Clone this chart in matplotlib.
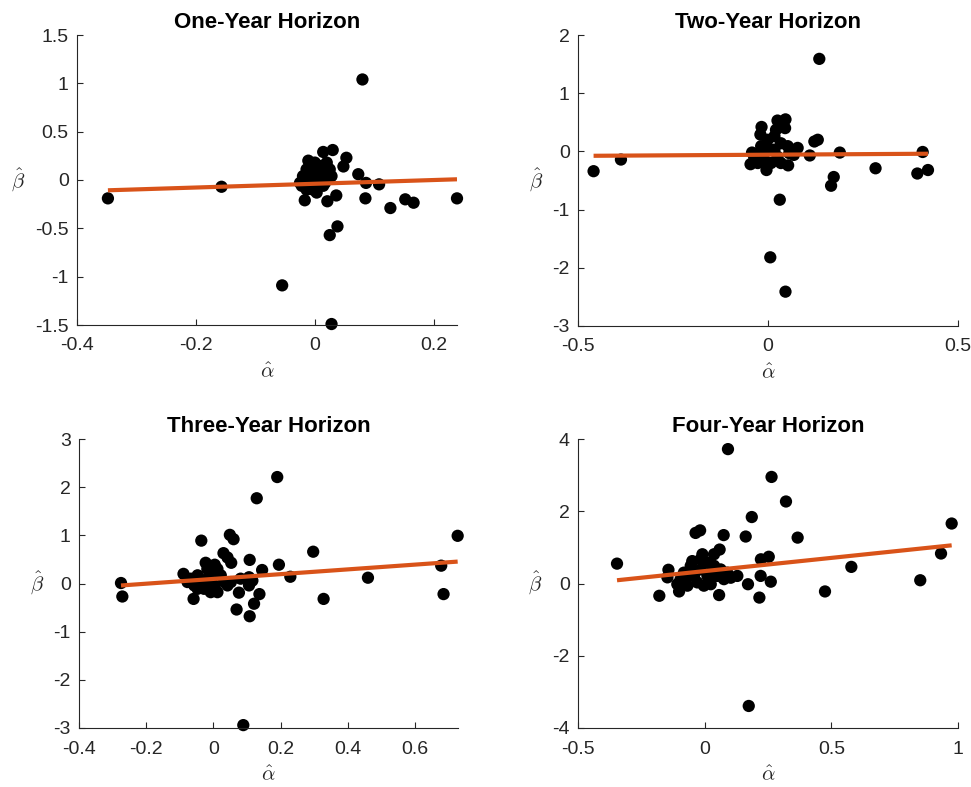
import matplotlib
matplotlib.use("Agg")
import matplotlib.pyplot as plt
import numpy as np

plt.rcParams['font.family'] = ['Liberation Sans', 'DejaVu Sans']
plt.rcParams['mathtext.fontset'] = 'cm'

titles = ["One-Year Horizon", "Two-Year Horizon", "Three-Year Horizon", "Four-Year Horizon"]

# ---- One-year horizon ----
alpha1 = [-0.348, -0.157, 0.080, -0.055, 0.028, 0.025, 0.038, 0.021, 0.036, -0.017,
          0.085, 0.086, 0.108, 0.127, 0.152, 0.166, 0.239, 0.073, 0.048, 0.053,
          0.030, 0.014, 0.000, -0.014, -0.020, -0.025, -0.008, 0.003, 0.014, 0.020,
          0.025, 0.008, -0.003, -0.014, 0.020, 0.011, 0.028, 0.006, -0.006, -0.017,
          -0.022, -0.003, 0.017, 0.003, -0.011]
beta1 = [-0.19, -0.07, 1.04, -1.09, -1.49, -0.57, -0.48, -0.22, -0.16, -0.21,
         -0.19, -0.03, -0.045, -0.29, -0.20, -0.235, -0.19, 0.06, 0.14, 0.23,
         0.31, 0.29, 0.18, 0.11, 0.04, -0.03, -0.06, -0.13, -0.06, 0.04,
         0.11, 0.08, 0.01, -0.10, 0.18, 0.145, 0.04, -0.01, 0.06, -0.01,
         -0.06, -0.10, -0.03, 0.11, 0.20]

# ---- Two-year horizon ----
alpha2 = [-0.459, -0.387, 0.135, 0.006, 0.046, 0.031, 0.053, 0.110, 0.122, 0.131,
          0.189, 0.173, 0.166, 0.283, 0.393, 0.407, 0.421, -0.017, -0.020, 0.025,
          0.046, 0.045, 0.078, 0.068, -0.004, -0.046, -0.042, -0.027, -0.018, -0.001,
          0.017, 0.034, 0.025, 0.008, -0.010, 0.017, 0.052, -0.027, 0.034, 0.008,
          -0.018, 0.021, 0.056, -0.036]
beta2 = [-0.34, -0.14, 1.59, -1.82, -2.41, -0.83, -0.24, -0.07, 0.17, 0.20,
         -0.02, -0.44, -0.59, -0.29, -0.38, -0.01, -0.32, 0.42, 0.29, 0.53,
         0.55, 0.40, 0.06, -0.06, -0.32, -0.22, -0.02, -0.09, 0.09, 0.20,
         0.26, 0.14, -0.09, -0.20, -0.14, 0.03, 0.09, -0.20, -0.20, 0.03,
         -0.03, 0.37, -0.03, -0.11]

# ---- Three-year horizon ----
alpha3 = [-0.275, -0.271, -0.036, 0.049, 0.060, 0.129, 0.190, 0.089, 0.297, 0.195,
          0.229, 0.328, 0.460, 0.678, 0.685, 0.727, 0.108, 0.145, 0.137, 0.121,
          0.069, 0.108, 0.076, 0.030, 0.042, 0.053, -0.023, 0.004, -0.089, -0.059,
          0.106, 0.081, 0.116, 0.106, -0.077, -0.057, -0.047, -0.028, -0.018, -0.008,
          0.002, 0.012, 0.022, 0.032, 0.042, -0.037, -0.008, -0.067, 0.012, 0.052,
          -0.018, -0.047]
beta3 = [0.01, -0.27, 0.89, 1.01, 0.92, 1.77, 2.21, -2.94, 0.66, 0.39,
         0.14, -0.32, 0.12, 0.37, -0.22, 0.99, 0.49, 0.28, -0.22, -0.42,
         -0.54, -0.68, -0.19, 0.63, 0.54, 0.43, 0.43, 0.39, 0.20, -0.32,
         0.13, 0.10, 0.06, -0.04, 0.03, -0.04, 0.17, -0.11, 0.10, 0.23,
         -0.04, -0.18, 0.17, 0.03, -0.04, 0.03, -0.18, 0.10, 0.30, 0.03,
         0.30, -0.11]

# ---- Four-year horizon ----
alpha4 = [-0.346, 0.092, 0.264, 0.321, 0.186, 0.975, 0.367, 0.162, 0.075, -0.036,
          -0.018, 0.174, 0.579, 0.475, 0.851, 0.933, 0.253, 0.222, 0.221, 0.261,
          0.216, 0.171, 0.129, 0.057, -0.179, -0.143, -0.147, -0.101, 0.059, 0.037,
          -0.049, -0.009, -0.095, -0.068, -0.042, -0.016, 0.011, 0.024, 0.050, 0.076,
          0.089, -0.029, -0.003, 0.024, -0.068, -0.055, 0.011, 0.037, -0.108, -0.016,
          -0.082, 0.063, 0.103]
beta4 = [0.55, 3.72, 2.95, 2.27, 1.84, 1.66, 1.27, 1.30, 1.34, 1.40,
         1.47, -3.39, 0.46, -0.22, 0.09, 0.83, 0.74, 0.67, 0.21, 0.05,
         -0.39, -0.02, 0.21, -0.32, -0.34, 0.38, 0.17, -0.22, 0.94, 0.81,
         0.62, 0.81, 0.12, -0.06, 0.21, 0.39, 0.58, 0.30, 0.21, 0.12,
         0.30, 0.03, -0.06, -0.02, 0.21, 0.49, 0.21, 0.49, -0.02, 0.67,
         0.30, 0.39, 0.16]

# fitted regression lines (intercept, slope)
fit_intercepts = [-0.039, -0.057, 0.095, 0.343]
fit_slopes = [0.194, 0.040, 0.495, 0.732]

xlims = [(-0.4, 0.239), (-0.5, 0.5), (-0.4, 0.728), (-0.5, 1.0)]
ylims = [(-1.5, 1.5), (-3, 2), (-3, 3), (-4, 4)]
xticks = [[-0.4, -0.2, 0, 0.2], [-0.5, 0, 0.5], [-0.4, -0.2, 0, 0.2, 0.4, 0.6], [-0.5, 0, 0.5, 1]]
yticks = [[-1.5, -1, -0.5, 0, 0.5, 1, 1.5], [-3, -2, -1, 0, 1, 2], [-3, -2, -1, 0, 1, 2, 3], [-4, -2, 0, 2, 4]]

alphas = [alpha1, alpha2, alpha3, alpha4]
betas = [beta1, beta2, beta3, beta4]

W, H = 971, 787
fig = plt.figure(figsize=(W / 100, H / 100), dpi=100)
boxes = [(77, 35, 457, 325), (578, 35, 958, 326), (79, 439, 458, 728), (578, 439, 958, 728)]

axc = '#262626'

def fmt(v):
    return '%g' % v

for i in range(4):
    l, t, r, b = boxes[i]
    ax = fig.add_axes([l / W, 1 - b / H, (r - l) / W, (b - t) / H])
    x = np.array(alphas[i])
    y = np.array(betas[i])
    ax.scatter(x, y, s=78, color='black', edgecolors='none', zorder=2, clip_on=False)
    xs = np.array([x.min(), x.max()])
    ax.plot(xs, fit_intercepts[i] + fit_slopes[i] * xs, color='#D95319', lw=3.0, zorder=3,
            solid_capstyle='butt')
    ax.set_xlim(*xlims[i])
    ax.set_ylim(*ylims[i])
    ax.set_xticks(xticks[i])
    ax.set_yticks(yticks[i])
    ax.set_xticklabels([fmt(v) for v in xticks[i]])
    ax.set_yticklabels([fmt(v) for v in yticks[i]])
    for sp in ['top', 'right']:
        ax.spines[sp].set_visible(False)
    for sp in ['left', 'bottom']:
        ax.spines[sp].set_color(axc)
        ax.spines[sp].set_linewidth(0.8)
    ax.tick_params(direction='in', length=4, width=0.8, colors=axc, labelsize=14)
    ax.tick_params(axis='x', pad=9)
    ax.tick_params(axis='y', pad=6)
    ax.set_title(titles[i], fontsize=16, fontweight='bold', pad=5)
    ax.set_xlabel(r'$\hat{\alpha}$', fontsize=15, color=axc, labelpad=6)
    ax.set_ylabel(r'$\hat{\beta}$', fontsize=15, color=axc, rotation=0, labelpad=12, va='center')

fig.savefig('out.png', dpi=100)
